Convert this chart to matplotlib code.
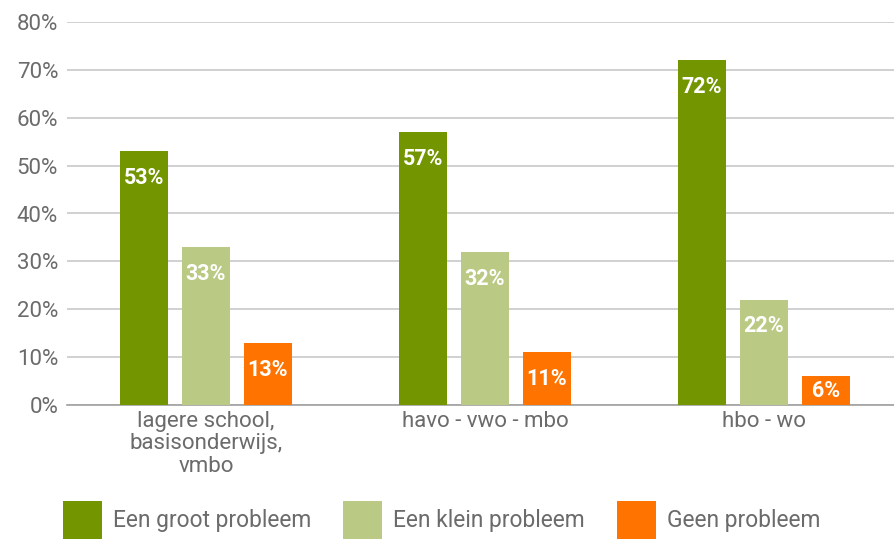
import matplotlib
matplotlib.use("Agg")
import matplotlib.pyplot as plt
import numpy as np
from matplotlib.patches import Patch

categories = ["lagere school,\nbasisonderwijs,\nvmbo", "havo - vwo - mbo", "hbo - wo"]
series_names = ["Een groot probleem", "Een klein probleem", "Geen probleem"]
groot = [53, 57, 72]
klein = [33, 32, 22]
geen = [13, 11, 6]
colors = ["#739600", "#BACA84", "#FF7300"]
yticks = [0, 10, 20, 30, 40, 50, 60, 70, 80]

plt.rcParams['font.family'] = ['Roboto', 'DejaVu Sans']
grey = "#6b6b6b"

W, H = 895, 539
fig = plt.figure(figsize=(W/100, H/100), dpi=100)
left = 66.5 / W
bottom = 1 - 405 / H
height = 383 / H
ax = fig.add_axes([left, bottom, 1 - left, height])

x = np.arange(len(categories))
bw = 0.172
off = 0.222
label_drop = 5.6  # in data units (% points) below bar top
for i, (vals, c) in enumerate(zip([groot, klein, geen], colors)):
    pos = x + (i - 1) * off
    bars = ax.bar(pos, vals, width=bw, color=c, zorder=3)
    for b, v in zip(bars, vals):
        ly = max(v - label_drop, v / 2)
        ax.text(b.get_x() + b.get_width() / 2, ly, f"{v}%",
                ha="center", va="center", color="white",
                fontsize=15.5, fontweight="bold", zorder=4, clip_on=False)

ax.set_ylim(0, 80)
ax.set_xlim(-0.5, 2.47)
ax.set_yticks(yticks)
ax.set_yticklabels([f"{t}%" for t in yticks], color=grey, fontsize=16)
ax.set_xticks(x)
ax.set_xticklabels(categories, color=grey, fontsize=16, linespacing=1.1)
ax.tick_params(axis="both", length=0, pad=6)
ax.tick_params(axis="x", pad=4)
ax.yaxis.grid(True, color="#c8c8c8", linewidth=1.2, zorder=0)
for s in ["top", "right", "left"]:
    ax.spines[s].set_visible(False)
ax.spines["bottom"].set_color("#a0a0a0")
ax.spines["bottom"].set_linewidth(1.2)

handles = [Patch(facecolor=c, edgecolor="none") for c in colors]
leg = fig.legend(handles, series_names, loc="lower left",
                 bbox_to_anchor=(63 / W, 0.0), ncol=3, frameon=False,
                 fontsize=16.4, handlelength=1.7, handleheight=2.2,
                 handletextpad=0.5, columnspacing=1.4, borderpad=0.0,
                 borderaxespad=0)
for t in leg.get_texts():
    t.set_color(grey)

fig.savefig("out.png", dpi=100)
